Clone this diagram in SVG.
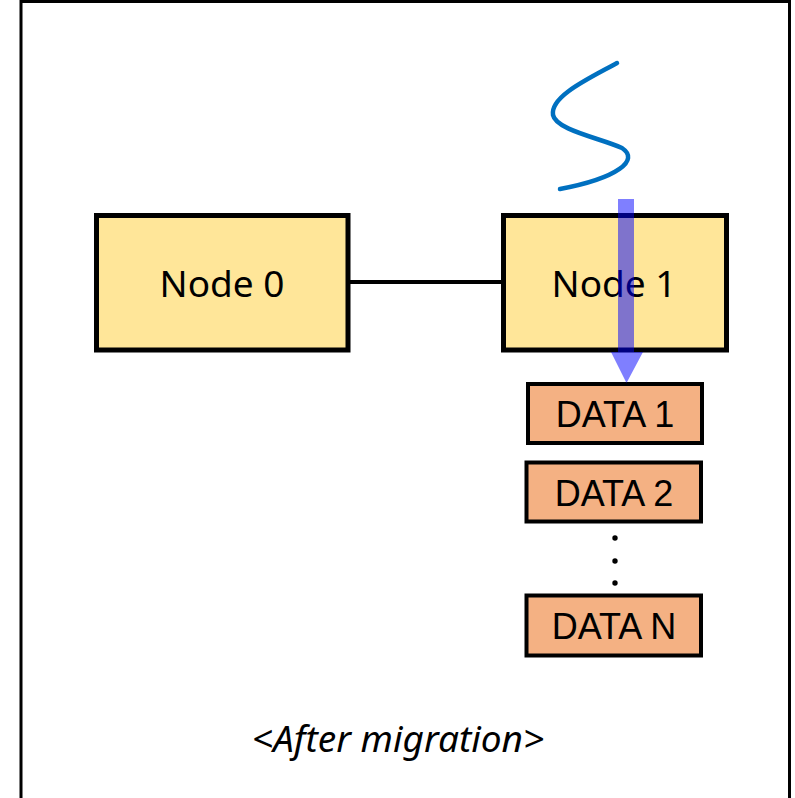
<svg xmlns="http://www.w3.org/2000/svg" width="795" height="798" viewBox="0 0 795 798">
<style>
.node{fill:#FFE699;stroke:#000;stroke-width:5}
.data{fill:#F4B183;stroke:#000;stroke-width:4}
.nt{font-family:"Noto Sans","Open Sans",sans-serif;font-size:37px;fill:#000;text-anchor:middle}
.dt{font-family:"Liberation Sans",Arial,sans-serif;font-size:36px;fill:#000;text-anchor:middle}
</style>
<rect x="21" y="1.5" width="768.5" height="830" fill="#fff" stroke="#000" stroke-width="3"/>
<g id="connectors">
<line x1="348" y1="282" x2="504" y2="282" stroke="#000" stroke-width="4"/>
</g>
<g id="node0">
<rect class="node" x="96.5" y="215.5" width="251.5" height="134.5"/>
<text class="nt" x="222" y="297">Node 0</text>
</g>
<g id="node1">
<rect class="node" x="503.5" y="215.5" width="223" height="134.5"/>
<text class="nt" x="614" y="297">Node 1</text>
</g>
<g id="data1">
<rect class="data" x="528" y="384" width="174" height="59"/>
<text class="dt" x="615" y="427">DATA 1</text>
</g>
<g id="data2">
<rect class="data" x="526.5" y="462.5" width="174.5" height="59"/>
<text class="dt" x="614" y="506">DATA 2</text>
</g>
<g id="dots">
<circle cx="615" cy="538" r="2.7" fill="#000"/>
<circle cx="615" cy="561" r="2.7" fill="#000"/>
<circle cx="615" cy="583" r="2.7" fill="#000"/>
</g>
<g id="dataN">
<rect class="data" x="526.5" y="595.5" width="174.5" height="60"/>
<text class="dt" x="614" y="639">DATA N</text>
</g>
<g id="wave">
<path d="M617,63 C590,78 550,96 553,115 C556,130 600,138 622,148 C640,160 618,178 560,189" fill="none" stroke="#0070C0" stroke-width="4.5" stroke-linecap="round"/>
</g>
<g id="arrow">
<path d="M618,199 H634 V352 H643 L626.5,383 L611,352 H618 Z" fill="#0000FF" fill-opacity="0.5"/>
</g>
<text x="398" y="752" font-family="'Noto Sans','Open Sans',sans-serif" font-style="italic" font-size="37" text-anchor="middle" fill="#000">&lt;After migration&gt;</text>
</svg>
